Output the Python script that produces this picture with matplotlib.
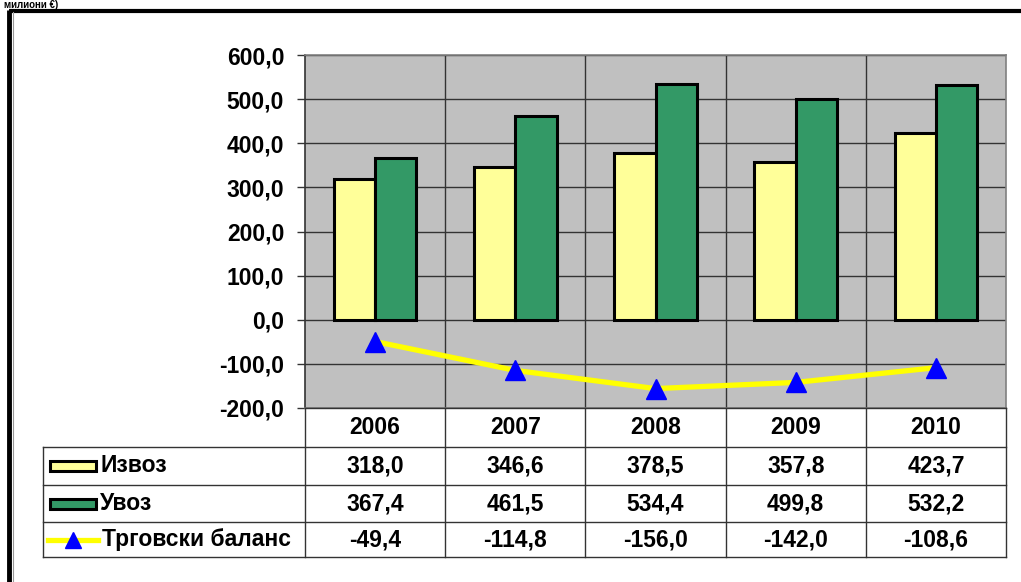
import matplotlib.pyplot as plt
import numpy as np
from matplotlib.patches import Rectangle

plt.rcParams['font.family'] = ['Liberation Sans', 'DejaVu Sans']
plt.rcParams['font.weight'] = 'bold'

# podaci
godine = ['2006', '2007', '2008', '2009', '2010']
izvoz = [318.0, 346.6, 378.5, 357.8, 423.7]
uvoz = [367.4, 461.5, 534.4, 499.8, 532.2]
bilans = [-49.4, -114.8, -156.0, -142.0, -108.6]
serije = ['Извоз', 'Увоз', 'Трговски баланс']
yticks = [-200, -100, 0, 100, 200, 300, 400, 500, 600]

zuta = '#FFFF99'
zelena = '#339966'

W, H = 1021, 582
fig = plt.figure(figsize=(W / 100, H / 100), dpi=100)
fig.patch.set_facecolor('white')

def fx(px):
    return px / W

def fy(py):
    return 1 - py / H

fs = 16.5

# glavni grafikon
ax = fig.add_axes([fx(305), fy(408), fx(1006) - fx(305), fy(55) - fy(408)])
ax.set_facecolor('#C0C0C0')
x = np.arange(len(godine))
bw = 0.295
ax.bar(x - bw / 2, izvoz, bw, color=zuta, edgecolor='black', linewidth=2.2, zorder=3)
ax.bar(x + bw / 2, uvoz, bw, color=zelena, edgecolor='black', linewidth=2.2, zorder=3)
ax.plot(x, bilans, color='#FFFF00', linewidth=3.8, zorder=4)
ax.plot(x, bilans, linestyle='none', marker='^', markersize=14, color='#0000FF', zorder=5)

ax.set_xlim(-0.5, len(godine) - 0.5)
ax.set_ylim(-200, 600)
ax.set_yticks(yticks)
ax.set_yticklabels([f'{v:.1f}'.replace('.', ',') for v in yticks], fontsize=fs, fontweight='bold')
ax.tick_params(axis='y', length=6, width=1, pad=9, color='#333333')
ax.set_xticks([])
for v in yticks:
    ax.axhline(v, color='#333333', linewidth=1, zorder=1)
for k in range(1, len(godine)):
    ax.axvline(k - 0.5, color='#333333', linewidth=1, zorder=1)
for s in ax.spines.values():
    s.set_color('#808080')
    s.set_linewidth(1.2)
ax.spines['left'].set_color('#333333')

# tabela i okvir u pikselima
ov = fig.add_axes([0, 0, 1, 1])
ov.set_xlim(0, W)
ov.set_ylim(H, 0)
ov.axis('off')
ov.patch.set_alpha(0)

kol = [305 + k * 140.2 for k in range(len(godine) + 1)]
redovi = [408, 447, 485, 522, 557]
lc = '#333333'
ov.plot([305, 1006], [redovi[0]] * 2, color=lc, lw=1)
for r in redovi[1:]:
    ov.plot([43, 1006], [r, r], color=lc, lw=1)
for c in kol:
    ov.plot([c, c], [redovi[0], redovi[-1]], color=lc, lw=1)
ov.plot([43, 43], [redovi[1], redovi[-1]], color=lc, lw=1)

for i, g in enumerate(godine):
    cx = (kol[i] + kol[i + 1]) / 2
    ov.text(cx, 428, g, ha='center', va='center', fontsize=fs, fontweight='bold')
    for j, niz in enumerate([izvoz, uvoz, bilans]):
        cy = (redovi[j + 1] + redovi[j + 2]) / 2
        ov.text(cx, cy, f'{niz[i]:.1f}'.replace('.', ','), ha='center', va='center',
                fontsize=fs, fontweight='bold')

# legenda u tabeli
cy1 = (redovi[1] + redovi[2]) / 2
cy2 = (redovi[2] + redovi[3]) / 2
cy3 = (redovi[3] + redovi[4]) / 2
ov.add_patch(Rectangle((50, cy1 - 5), 46, 10, facecolor=zuta, edgecolor='black', lw=2.2))
ov.add_patch(Rectangle((50, cy2 - 5), 46, 10, facecolor=zelena, edgecolor='black', lw=2.2))
ov.plot([48, 98], [cy3, cy3], color='#FFFF00', lw=3.8)
ov.plot([73], [cy3], marker='^', markersize=12, color='#0000FF', linestyle='none')
for cy, t in zip([cy1, cy2, cy3], serije):
    ov.text(100 if t != serije[2] else 102, cy, t, ha='left', va='center', fontsize=fs, fontweight='bold')

# okvir
ov.plot([9, 9], [10, H], color='black', lw=3.5, solid_capstyle='butt')
ov.plot([9, W], [10.5, 10.5], color='black', lw=3, solid_capstyle='butt')
ov.plot([12.5, 12.5], [12, H], color='#999999', lw=0.8)

# naslov
ov.text(4, 7.5, 'милиони €)', ha='left', va='baseline', fontsize=7, fontweight='bold')

plt.savefig('out.png', dpi=100)
